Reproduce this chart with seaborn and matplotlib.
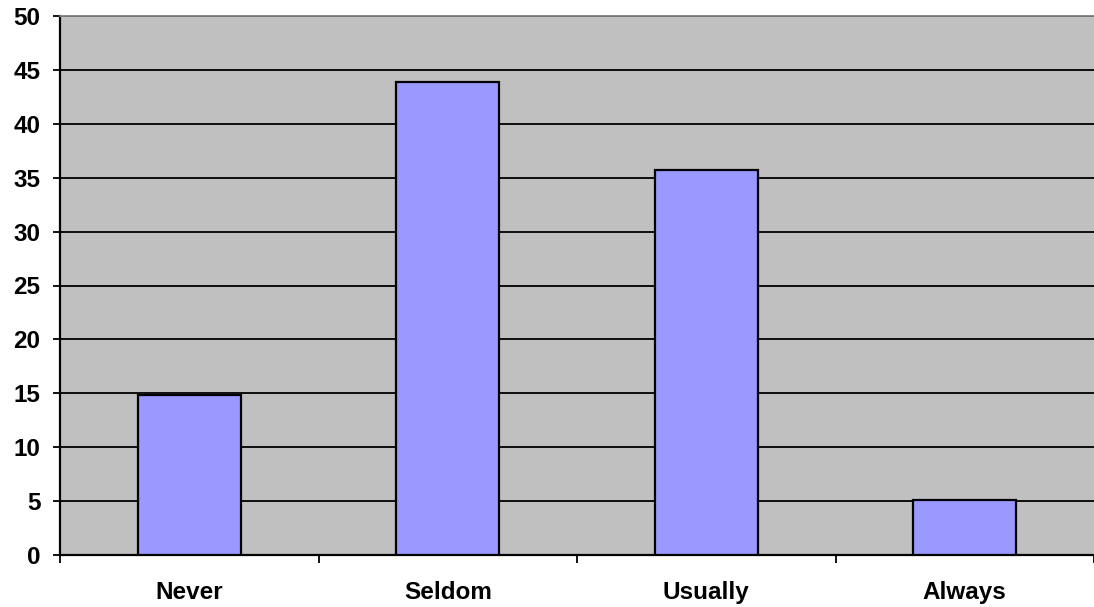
import matplotlib
matplotlib.use("Agg")
import matplotlib.pyplot as plt
import seaborn as sns
import pandas as pd

categories = ["Never", "Seldom", "Usually", "Always"]
values = [14.8, 43.9, 35.7, 5.1]
y_ticks = [0, 5, 10, 15, 20, 25, 30, 35, 40, 45, 50]

df = pd.DataFrame({"cat": categories, "val": values})

sns.set_style("white")
plt.rcParams["font.family"] = ["Liberation Sans", "DejaVu Sans"]
plt.rcParams["text.color"] = "black"
plt.rcParams["xtick.color"] = "black"
plt.rcParams["ytick.color"] = "black"

fig = plt.figure(figsize=(10.94, 6.07), dpi=100)
ax = fig.add_axes([60 / 1094, 52 / 607, 1 - 60 / 1094, (555 - 16) / 607])
ax.set_facecolor("#C0C0C0")

sns.barplot(data=df, x="cat", y="val", color="#9999FF", saturation=1,
            width=0.4, edgecolor="black", linewidth=1.6, ax=ax, zorder=3)

ax.set_ylim(0, 50)
ax.set_xlim(-0.5, len(categories) - 0.5)
ax.set_yticks(y_ticks)
ax.set_yticklabels([str(t) for t in y_ticks], fontsize=17.5, fontweight="bold", color="black")
ax.yaxis.grid(True, color="black", linewidth=1.3, zorder=1)
ax.set_axisbelow(True)

ax.set_xticks([i - 0.5 for i in range(len(categories) + 1)])
ax.set_xticklabels([])
ax.set_xticks(range(len(categories)), minor=True)
ax.set_xticklabels(categories, minor=True, fontsize=17.5, fontweight="bold", color="black")
ax.tick_params(axis="x", which="major", length=6, width=1.3, direction="out", color="black", bottom=True)
ax.tick_params(axis="x", which="minor", length=0, pad=19)
ax.tick_params(axis="y", length=5, width=1.3, direction="out", color="black", pad=9, left=True)

ax.set_xlabel("")
ax.set_ylabel("")
for s in ["left", "bottom"]:
    ax.spines[s].set_color("black")
    ax.spines[s].set_linewidth(1.6)
ax.spines["top"].set_color("#808080")
ax.spines["top"].set_linewidth(1.3)
ax.spines["right"].set_visible(False)

fig.savefig("out.png", dpi=100)
